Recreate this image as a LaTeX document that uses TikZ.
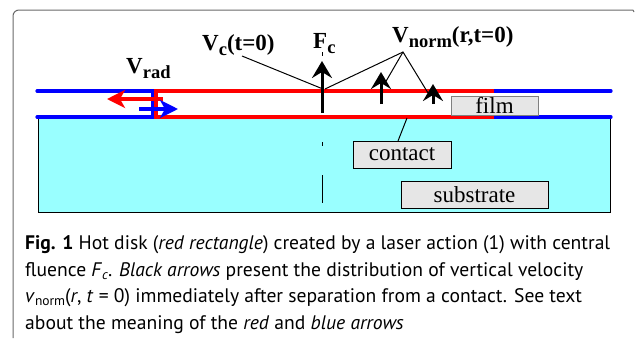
\documentclass[tikz,border=0pt]{standalone}
\usepackage{fontspec}
\setmainfont{Liberation Serif}
\newfontfamily\capfont{PT Sans}
\usetikzlibrary{arrows.meta}
\definecolor{cyanfill}{RGB}{153,255,255}
\definecolor{boxfill}{RGB}{230,230,230}
\definecolor{framegray}{RGB}{105,105,105}
\definecolor{filmblue}{RGB}{0,0,255}
\definecolor{hotred}{RGB}{255,0,0}
\newcommand\lblsub[1]{\raisebox{-5pt}{\fontsize{18.5}{18.5}\selectfont\bfseries #1}}
\newcommand\capsub[1]{\raisebox{-3pt}{\fontsize{13.5}{13.5}\selectfont #1}}
\begin{document}
\begin{tikzpicture}[x=1pt,y=-1pt,
  lbl/.style={inner sep=0, anchor=base west, font=\fontsize{23}{23}\selectfont\bfseries},
  capline/.style={inner sep=0, anchor=base west, font=\capfont\fontsize{19.6}{24}\selectfont},
  tagbox/.style={draw, fill=boxfill, inner sep=0, font=\fontsize{23}{23}\selectfont},
  filmline/.style={filmblue, line width=3.2pt},
  hotline/.style={hotred, line width=3.2pt},
  vel/.style={line width=3pt, -{Stealth[length=17pt,width=20pt,inset=6pt]}},
  radarrow/.style={line width=3.2pt, -{Stealth[length=18pt,width=18pt,inset=5pt]}},
  leader/.style={black, line width=1pt}]
\useasboundingbox (0,0) rectangle (635,341);
% frame
\draw[framegray, line width=1pt, rounded corners=6pt] (13,338) -- (13,10) -- (633,10);
\draw[framegray, line width=1pt] (633,10) -- (634,12);
% substrate
\node[draw, line width=0.9pt, fill=cyanfill, inner sep=0, minimum width=572pt, minimum height=94pt, anchor=north west] (sub) at (37.5,118) {};
% film lines
\coordinate (fTL) at (37,91);
\coordinate (fTR) at (611,91);
\coordinate (fBL) at (37,117);
\coordinate (fBR) at (611,117);
\draw[filmline, line cap=round] (fTL) -- (fTR);
\draw[filmline, line cap=round] (fBL) -- (fBR);
\coordinate (bvT) at (153,91);
\coordinate (bvB) at (153,117);
\draw[filmline] (bvT) -- (bvB);
% hot disk
\coordinate (hTR) at (494,91);
\coordinate (hTL) at (156,91);
\coordinate (hBL) at (156,117);
\coordinate (hBR) at (494,117);
\draw[hotline] (hTR) -- (hTL) -- (hBL) -- (hBR);
% boxes
\node[tagbox, draw=gray, line width=0.8pt, minimum width=87pt, minimum height=19pt] (film) at (494.5,105.5) {film};
\node[tagbox, line width=1pt, minimum width=98pt, minimum height=27pt] (contact) at (402,154.5) {contact};
\node[tagbox, line width=1pt, minimum width=147pt, minimum height=27pt] (substrate) at (474.5,194.5) {substrate};
\coordinate (cl1) at (398,141);
\coordinate (cl2) at (407,118);
\draw[leader] (cl1) -- (cl2);
% axis
\coordinate (axT) at (322,52);
\coordinate (axB) at (322,206);
\draw[line width=1pt, dash pattern=on 4pt off 29pt on 28pt off 29pt] (axT) -- (axB);
% radial arrows
\coordinate (rS) at (163,99);
\coordinate (rE) at (107,99);
\draw[radarrow, hotred] (rS) -- (rE);
\coordinate (bS) at (139,109);
\coordinate (bE) at (178,109);
\draw[radarrow, filmblue] (bS) -- (bE);
% vertical velocity arrows
\coordinate (a1s) at (322,113);
\coordinate (a1e) at (322,61);
\coordinate (a2s) at (381,104);
\coordinate (a2e) at (381,72);
\coordinate (a3s) at (433,104);
\coordinate (a3e) at (433,84);
\draw[vel] (a1s) -- (a1e);
\draw[vel] (a2s) -- (a2e);
\draw[vel] (a3s) -- (a3e);
% labels
\node[lbl] (vc) at (202,50) {V\lblsub{c}(t=0)};
\node[lbl] (fc) at (313,48) {F\lblsub{c}};
\node[lbl] (vn) at (392,42) {V\lblsub{norm}(r,t=0)};
\node[lbl] (vr) at (126,73) {V\lblsub{rad}};
% leaders
\coordinate (vcS) at (242,56);
\coordinate (vcE) at (323,89);
\draw[leader] (vcS) -- (vcE);
\coordinate (apex) at (403,52);
\coordinate (n1) at (325,89);
\coordinate (n2) at (385,83);
\coordinate (n3) at (428,93);
\draw[leader] (n1) -- (apex) -- (n3);
\draw[leader] (apex) -- (n2);
% caption
\node[capline] (c1) at (25,249) {\textbf{Fig. 1} Hot disk (\textit{red rectangle}) created by a laser action (1) with central};
\node[capline] (c2) at (25,276) {fluence \textit{F}\capsub{\textit{c}}. \textit{Black arrows} present the distribution of vertical velocity};
\node[capline] (c3) at (25,302) {\textit{v}\capsub{norm}(\textit{r}, \textit{t} = 0) immediately after separation from a contact. See text};
\node[capline] (c4) at (25,329) {about the meaning of the \textit{red} and \textit{blue arrows}};
\end{tikzpicture}
\end{document}
